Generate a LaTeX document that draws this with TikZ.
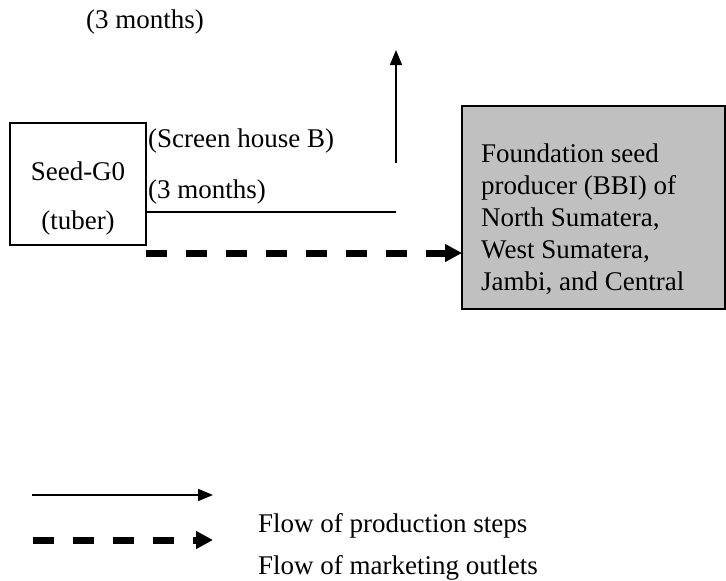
\documentclass[tikz,border=0pt]{standalone}
\usepackage{fontspec}
\setmainfont{Liberation Serif}
\usetikzlibrary{arrows.meta}
\begin{document}
\begin{tikzpicture}[x=1pt,y=-1pt,
  every node/.style={font=\fontsize{27}{32}\selectfont, inner sep=0pt},
  lbl/.style={anchor=west},
  ln/.style={anchor=base west},
  flowline/.style={line width=1.6pt},
  prodarrow/.style={flowline, -{Triangle[length=15pt,width=12pt]}},
  mktarrow/.style={line width=7pt, dash pattern=on 21pt off 19pt,
    -{Triangle[length=17pt,width=17pt]}},
  boxstyle/.style={draw, line width=1.6pt}]
\useasboundingbox (0,0) rectangle (726,581);

% top label
\node[lbl] (topmonths) at (86,22) {(3 months)};

% seed box
\draw[boxstyle] (10,123) rectangle (146,245);
\node (seed) at (78,171) {Seed-G0};
\node (tuber) at (78,223) {(tuber)};
\coordinate (seedE) at (146,212);
\coordinate (seedD) at (146,253);

% screen house labels
\node[lbl] (screen) at (148,141) {(Screen house B)};
\node[lbl] (months) at (148,192) {(3 months)};

% foundation seed producer box
\draw[boxstyle, fill={rgb,255:red,192;green,192;blue,192}] (462,106) rectangle (725,309);
\coordinate (foundW) at (462,253);
\node[ln] (found1) at (481,162) {Foundation seed};
\node[ln] (found2) at (481,194) {producer (BBI) of};
\node[ln] (found3) at (481,226) {North Sumatera,};
\node[ln] (found4) at (481,258) {West Sumatera,};
\node[ln] (found5) at (481,290) {Jambi, and Central};

% production line and upward step
\coordinate (turn) at (396,212);
\coordinate (upfoot) at (396,163);
\coordinate (uptip) at (396,50);
\draw[flowline] (seedE) -- (turn);
\draw[prodarrow] (upfoot) -- (uptip);

% marketing outlet
\draw[mktarrow] (seedD) -- (foundW);

% legend
\coordinate (l1a) at (32,495);
\coordinate (l1b) at (213,495);
\coordinate (l2a) at (33,540);
\coordinate (l2b) at (213,540);
\draw[prodarrow] (l1a) -- (l1b);
\draw[mktarrow] (l2a) -- (l2b);
\node[lbl] (leg1) at (258,526) {Flow of production steps};
\node[lbl] (leg2) at (258,568) {Flow of marketing outlets};
\end{tikzpicture}
\end{document}
